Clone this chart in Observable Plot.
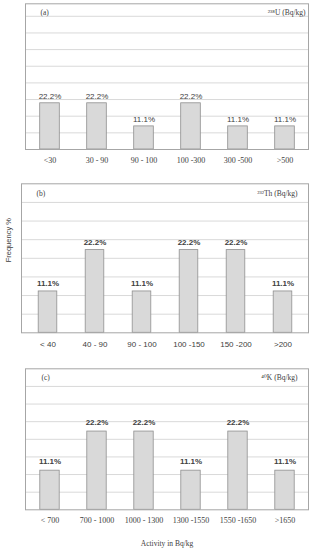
<!DOCTYPE html>
<html>
<head>
<meta charset="utf-8">
<script src="https://cdn.jsdelivr.net/npm/d3@7"></script>
<script src="https://cdn.jsdelivr.net/npm/@observablehq/plot@0.6"></script>
<style>
  html, body { margin: 0; padding: 0; background: #fff; }
  #wrap { position: relative; width: 310px; height: 550px; overflow: hidden; }
  #wrap svg { position: absolute; left: 0; overflow: visible; }
</style>
</head>
<body>
<div id="wrap"></div>
<script>
// ---- data ----
const catsU = ["<30", "30 - 90", "90 - 100", "100 -300", "300 -500", ">500"];
const valsU = [22.2, 22.2, 11.1, 22.2, 11.1, 11.1];
const catsTh = ["< 40", "40 - 90", "90 - 100", "100 -150", "150 -200", ">200"];
const valsTh = [11.1, 22.2, 11.1, 22.2, 22.2, 11.1];
const catsK = ["< 700", "700 - 1000", "1000 - 1300", "1300 -1550", "1550 -1650", ">1650"];
const valsK = [11.1, 22.2, 22.2, 11.1, 22.2, 11.1];
const gridU = [8, 16, 24, 32, 40, 48, 56, 64];
const gridThK = [5, 10, 15, 20, 25, 30, 35];

const SERIF = "'Liberation Serif', 'DejaVu Serif', serif";
const SANS = "'Liberation Sans', Arial, sans-serif";
const TXT = "#404040";

function panel(o) {
  const data = o.cats.map((c, i) => ({cat: c, v: o.vals[i]}));
  const marks = [
    Plot.ruleY(o.grid, {stroke: "#d9d9d9", strokeWidth: 1}),
    Plot.barY(data, {x: "cat", y: "v", fill: "#d9d9d9", stroke: "#8f8f8f", strokeWidth: 0.8, insetLeft: o.inset, insetRight: o.inset}),
    Plot.frame({stroke: "#a6a6a6", strokeWidth: 1}),
    Plot.text(data, {x: "cat", y: "v", text: d => d.v.toFixed(1) + "%", dy: o.pdy, fontFamily: SANS, fontSize: 8, fontWeight: o.pw, fill: TXT}),
    Plot.axisX({tickSize: 0, tickPadding: o.tp, fontFamily: o.tickFont, fontSize: 8, fill: TXT, label: null}),
    Plot.text([o.tag], {frameAnchor: "top-left", textAnchor: "start", lineAnchor: "middle", dx: o.tagDx, dy: o.tagDy, fontFamily: SERIF, fontSize: 7.5, fill: TXT}),
    Plot.text([o.unit], {frameAnchor: "top-right", textAnchor: "end", lineAnchor: "middle", dx: o.unitDx, dy: o.tagDy, fontFamily: SERIF, fontSize: 7.5, fill: TXT})
  ];
  if (o.extra) marks.push(...o.extra);
  const svg = Plot.plot({
    width: 310,
    height: o.height,
    marginLeft: o.ml, marginRight: 2, marginTop: o.mt, marginBottom: o.mb,
    x: {domain: o.cats, padding: 0},
    y: {domain: [0, o.ymax], axis: null},
    style: {background: "transparent", overflow: "visible"},
    marks
  });
  svg.style.top = o.top + "px";
  document.getElementById("wrap").appendChild(svg);
}

panel({
  cats: catsU, vals: valsU, grid: gridU, ymax: 70,
  top: 0, height: 172, ml: 25, mt: 3.3, mb: 23,
  inset: 13.7, pdy: -7, pw: 400, tp: 7.5, tickFont: SERIF,
  tag: "(a)", unit: "²³⁸U (Bq/kg)", tagDx: 15, tagDy: 8.4, unitDx: -3
});

panel({
  cats: catsTh, vals: valsTh, grid: gridThK, ymax: 40,
  top: 180, height: 180, ml: 21, mt: 3.3, mb: 27.7,
  inset: 14.2, pdy: -7.6, pw: 600, tp: 9, tickFont: SANS,
  tag: "(b)", unit: "²³²Th (Bq/kg)", tagDx: 15, tagDy: 10, unitDx: -11,
  extra: [
    Plot.text(["Frequency %"], {frameAnchor: "left", rotate: -90, dx: -13, dy: 4, fontFamily: SANS, fontSize: 7.5, fill: TXT})
  ]
});

panel({
  cats: catsK, vals: valsK, grid: gridThK, ymax: 40,
  top: 365, height: 185, ml: 25, mt: 3.3, mb: 40.7,
  inset: 13.8, pdy: -9.3, pw: 600, tp: 8, tickFont: SERIF,
  tag: "(c)", unit: "⁴⁰K (Bq/kg)", tagDx: 16, tagDy: 8.4, unitDx: -11,
  extra: [
    Plot.text(["Activity in Bq/kg"], {frameAnchor: "bottom", lineAnchor: "middle", dy: 34, fontFamily: SERIF, fontSize: 7.5, fill: TXT})
  ]
});
</script>
</body>
</html>
